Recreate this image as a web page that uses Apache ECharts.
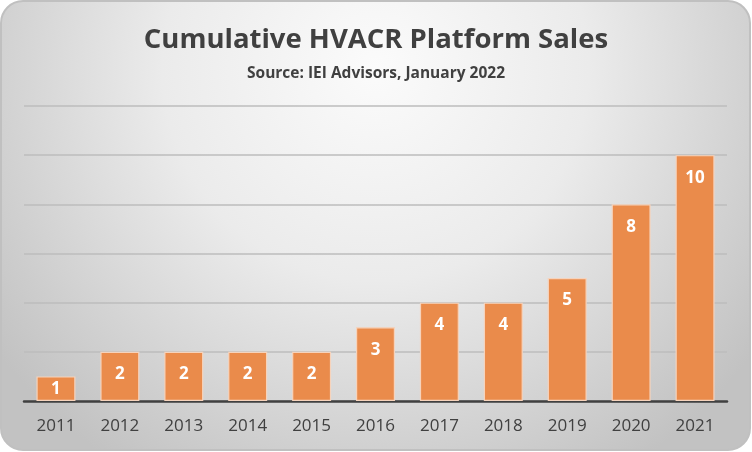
<!DOCTYPE html>
<html><head><meta charset="utf-8">
<script src="https://cdn.jsdelivr.net/npm/echarts@6/dist/echarts.min.js"></script>
<style>html,body{margin:0;padding:0;background:#fff}#c{width:752px;height:452px}</style>
</head><body><div id="c"></div>
<script>
const titleText = 'Cumulative HVACR Platform Sales';
const subtitleText = 'Source: IEI Advisors, January 2022';
const years = ['2011','2012','2013','2014','2015','2016','2017','2018','2019','2020','2021'];
const sales = [1,2,2,2,2,3,4,4,5,8,10];

const chart = echarts.init(document.getElementById('c'), null, {renderer:'canvas'});
const FONT = '"Open Sans", "DejaVu Sans", sans-serif';
chart.setOption({
  animation:false,
  graphic:[{
    type:'rect', z:-10, silent:true,
    shape:{x:1,y:1,width:749,height:449,r:22},
    style:{
      fill:{type:'radial',x:0.5,y:0.15,r:1.05,colorStops:[
        {offset:0,color:'#fbfbfb'},{offset:0.45,color:'#ebebeb'},{offset:1,color:'#c2c2c2'}]},
      stroke:'#c0c0c0', lineWidth:2
    }
  }],
  title:[
    {text:titleText,left:'center',top:21,textStyle:{fontFamily:FONT,fontWeight:'bold',fontSize:27.5,color:'#404040'}},
    {text:subtitleText,left:'center',top:61,textStyle:{fontFamily:FONT,fontWeight:'bold',fontSize:15.5,color:'#404040'}}
  ],
  grid:{left:24,right:25,top:106,bottom:51,containLabel:false},
  xAxis:{
    type:'category',data:years,
    axisLine:{lineStyle:{color:'#404040',width:2.5}},
    axisTick:{show:false},
    axisLabel:{fontFamily:FONT,fontSize:17,color:'#404040',margin:17}
  },
  yAxis:{
    type:'value',min:0,max:12,interval:2,
    axisLabel:{show:false},axisLine:{show:false},axisTick:{show:false},
    splitLine:{lineStyle:{color:'#bdbdbd',width:1.5}}
  },
  series:[{
    type:'bar',
    data:sales.map(v=>({value:v,label:v<2?{position:'inside'}:{}})),
    barCategoryGap:'39%',
    itemStyle:{color:'#EA8B4B',borderColor:'#F6D3BC',borderWidth:1.2},
    label:{show:true,position:'insideTop',distance:14,fontFamily:FONT,fontWeight:'bold',fontSize:17,color:'#ffffff'}
  }]
});
</script></body></html>
